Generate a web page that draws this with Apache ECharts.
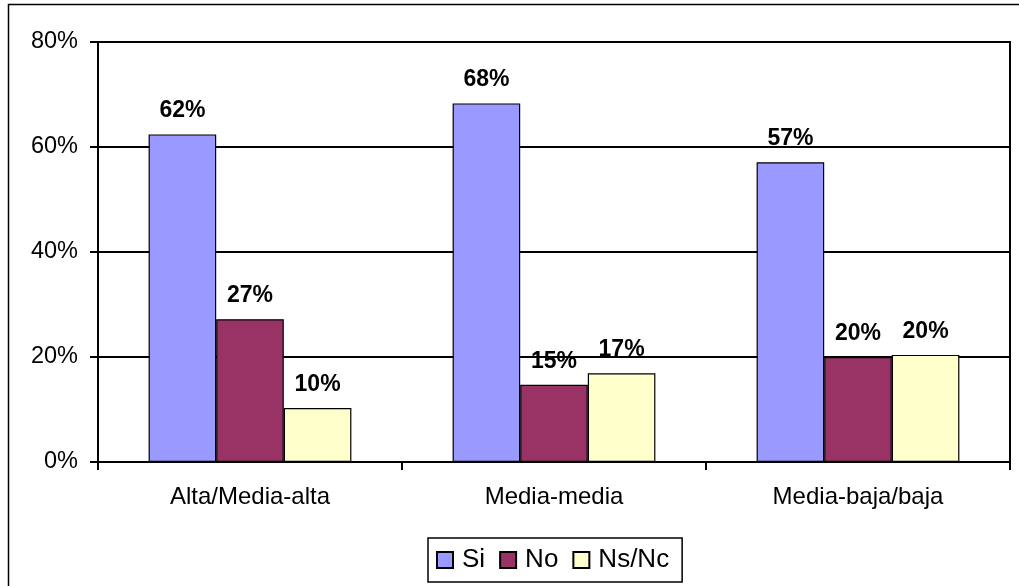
<!DOCTYPE html>
<html>
<head>
<meta charset="utf-8">
<script src="https://cdn.jsdelivr.net/npm/echarts@6/dist/echarts.min.js"></script>
<style>
html,body{margin:0;padding:0;background:#fff;}
#chart{width:1019px;height:586px;}
</style>
</head>
<body>
<div id="chart"></div>
<script>
const categories = ['Alta/Media-alta', 'Media-media', 'Media-baja/baja'];
const seriesNames = ['Si', 'No', 'Ns/Nc'];
const siValues = [62.4, 68.3, 57.1];
const noValues = [27.2, 14.7, 20.0];
const nsncValues = [10.3, 16.9, 20.4];
const yTicks = [0, 20, 40, 60, 80];

const FONT = '"Liberation Sans", Arial, sans-serif';
const colors = ['#9999FF', '#993366', '#FFFFCC'];
const dataSets = [siValues, noValues, nsncValues];

const chart = echarts.init(document.getElementById('chart'), null, {renderer: 'canvas'});

const series = seriesNames.map((name, i) => ({
  name: name,
  type: 'bar',
  data: dataSets[i],
  barGap: '0%',
  barCategoryGap: '33.3%',
  itemStyle: {color: colors[i], borderColor: '#000', borderWidth: 1.2},
  label: {
    show: true,
    position: 'top',
    distance: 12,
    formatter: p => Math.round(p.value) + '%',
    fontFamily: FONT,
    fontWeight: 'bold',
    fontSize: 23,
    color: '#000'
  },
  emphasis: {disabled: true},
  animation: false
}));

chart.setOption({
  animation: false,
  backgroundColor: '#fff',
  textStyle: {fontFamily: FONT},
  graphic: [{
    type: 'rect',
    shape: {x: 8.5, y: 4.5, width: 1100, height: 700},
    style: {fill: null, stroke: '#000', lineWidth: 1.5},
    silent: true,
    z: -10
  }],
  grid: {
    left: 98, right: 9, top: 42, bottom: 124,
    show: true, borderColor: '#000', borderWidth: 2, backgroundColor: 'transparent'
  },
  legend: {
    data: seriesNames,
    left: 428,
    top: 538,
    padding: [9, 13, 9, 8],
    itemWidth: 16,
    itemHeight: 16,
    itemGap: 14,
    icon: 'rect',
    borderColor: '#000',
    borderWidth: 1.5,
    textStyle: {fontFamily: FONT, fontSize: 26, color: '#000', padding: [0, 0, 0, 4]}
  },
  xAxis: {
    type: 'category',
    data: categories,
    boundaryGap: true,
    axisLine: {lineStyle: {color: '#000', width: 2}},
    axisTick: {show: true, length: 8, lineStyle: {color: '#000', width: 2}},
    axisLabel: {fontFamily: FONT, fontSize: 24, color: '#000', margin: 23}
  },
  yAxis: {
    type: 'value',
    min: yTicks[0],
    max: yTicks[yTicks.length - 1],
    interval: 20,
    axisLine: {show: true, lineStyle: {color: '#000', width: 2}},
    axisTick: {show: true, length: 8, lineStyle: {color: '#000', width: 2}},
    axisLabel: {fontFamily: FONT, fontSize: 23.5, color: '#000', margin: 20, formatter: '{value}%'},
    splitLine: {show: true, lineStyle: {color: '#000', width: 2}}
  },
  series: series
});
</script>
</body>
</html>
